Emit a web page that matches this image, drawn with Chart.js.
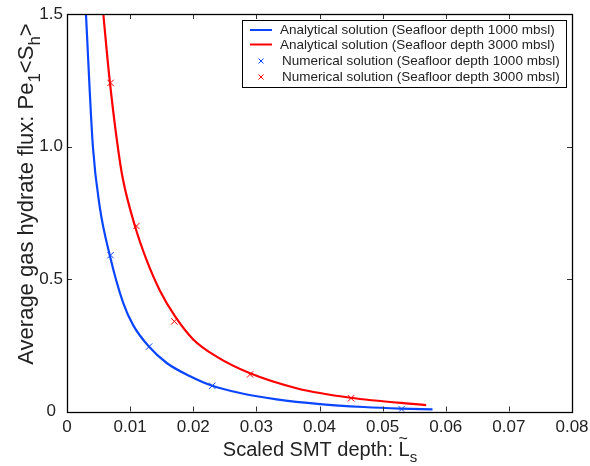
<!DOCTYPE html>
<html>
<head>
<meta charset="utf-8">
<script src="https://cdn.jsdelivr.net/npm/chart.js@4"></script>
<style>
    html, body { margin: 0; padding: 0; background: #fff; }
    #wrap { width: 590px; height: 466px; }
</style>
</head>
<body>
<div id="wrap"><canvas id="chart" width="590" height="466"></canvas></div>
<script>
// Colors + font
const BLUE = '#0a46ff';
const RED = '#ff0000';
const INK = '#222222';
const FONT = '"Liberation Sans", Arial, sans-serif';

// Axis ticks
const xTicks = [0, 0.01, 0.02, 0.03, 0.04, 0.05, 0.06, 0.07, 0.08];
const xTickLabels = ['0', '0.01', '0.02', '0.03', '0.04', '0.05', '0.06', '0.07', '0.08'];
const yTicks = [0, 0.5, 1.0, 1.5];
const yTickLabels = ['0', '0.5', '1.0', '1.5'];

// Analytical curves
const blueCurveX = [0.0030, 0.0041, 0.0052, 0.0068, 0.0089, 0.0105, 0.0129, 0.0158, 0.0195, 0.0229,
    0.0274, 0.0332, 0.0401, 0.0470, 0.0528, 0.0579];
const blueCurveY = [1.500, 1.000, 0.770, 0.587, 0.410, 0.325, 0.247, 0.183, 0.133, 0.098,
    0.070, 0.046, 0.028, 0.017, 0.011, 0.008];
const redCurveX = [0.00575, 0.0067, 0.00797, 0.00883, 0.0108, 0.0126, 0.0147, 0.0171, 0.0200, 0.0237,
    0.0290, 0.0365, 0.0449, 0.0569];
const redCurveY = [1.500, 1.264, 1.012, 0.880, 0.697, 0.572, 0.457, 0.360, 0.272, 0.207,
    0.144, 0.087, 0.052, 0.024];

// Numerical solutions (markers)
const blueMarkX = [0.0069, 0.013, 0.023, 0.053];
const blueMarkY = [0.59, 0.245, 0.097, 0.009];
const redMarkX = [0.0069, 0.011, 0.017, 0.029, 0.045];
const redMarkY = [1.24, 0.70, 0.34, 0.14, 0.05];

const legendLabels = [
    'Analytical solution (Seafloor depth 1000 mbsl)',
    'Analytical solution (Seafloor depth 3000 mbsl)',
    'Numerical solution (Seafloor depth 1000 mbsl)',
    'Numerical solution (Seafloor depth 3000 mbsl)'
];

const pts = (xs, ys) => xs.map((x, i) => ({ x: x, y: ys[i] }));

function drawRich(ctx, parts, size) {
    // text pieces left to right, centred on the origin, baseline at 0
    const subSize = Math.round(size * 0.75);
    let w = 0;
    parts.forEach((p) => {
        ctx.font = (p.sub ? subSize : size) + 'px ' + FONT;
        p.w = ctx.measureText(p.t).width;
        w += p.w;
    });
    let cx = -w / 2;
    parts.forEach((p) => {
        ctx.font = (p.sub ? subSize : size) + 'px ' + FONT;
        ctx.fillText(p.t, cx, p.sub ? size * 0.32 : 0);
        if (p.tilde) {
            ctx.font = Math.round(size * 0.8) + 'px ' + FONT;
            ctx.textAlign = 'center';
            ctx.fillText('~', cx + p.w / 2 - 1, -size * 0.6);
            ctx.textAlign = 'left';
        }
        cx += p.w;
    });
}

const decorations = {
    id: 'decorations',
    afterDatasetsDraw(chart) {
        const { ctx, chartArea: a, scales } = chart;
        const xs = scales.x;
        const ys = scales.y;
        ctx.save();

        // inside tick marks
        ctx.strokeStyle = '#333';
        ctx.lineWidth = 1;
        ctx.beginPath();
        xs.ticks.forEach((t) => {
            const px = Math.round(xs.getPixelForValue(t.value)) + 0.5;
            ctx.moveTo(px, a.bottom); ctx.lineTo(px, a.bottom - 5);
            ctx.moveTo(px, a.top); ctx.lineTo(px, a.top + 5);
        });
        ys.ticks.forEach((t) => {
            const py = Math.round(ys.getPixelForValue(t.value)) + 0.5;
            ctx.moveTo(a.left, py); ctx.lineTo(a.left + 5, py);
            ctx.moveTo(a.right, py); ctx.lineTo(a.right - 5, py);
        });
        ctx.stroke();

        // axes box
        ctx.strokeStyle = '#000';
        ctx.lineWidth = 1.3;
        ctx.strokeRect(Math.round(a.left) + 0.5, Math.round(a.top) + 0.5,
            Math.round(a.right - a.left), Math.round(a.bottom - a.top));

        // legend
        const lx = 242, ly = 20, lw = 324, lh = 67;
        ctx.fillStyle = '#fff';
        ctx.fillRect(lx, ly, lw, lh);
        ctx.strokeStyle = '#000';
        ctx.lineWidth = 1;
        ctx.strokeRect(lx + 0.5, ly + 0.5, lw, lh);
        const rowY = [30, 44.5, 61, 77];
        chart.data.datasets.forEach((ds, i) => {
            const yy = rowY[i];
            ctx.strokeStyle = ds.borderColor;
            if (ds.showLine) {
                ctx.lineWidth = 2;
                ctx.beginPath();
                ctx.moveTo(250, yy); ctx.lineTo(272, yy);
                ctx.stroke();
            } else {
                ctx.lineWidth = 1;
                ctx.beginPath();
                ctx.moveTo(258.5, yy - 2.5); ctx.lineTo(263.5, yy + 2.5);
                ctx.moveTo(263.5, yy - 2.5); ctx.lineTo(258.5, yy + 2.5);
                ctx.stroke();
            }
            ctx.fillStyle = INK;
            ctx.font = '13.5px ' + FONT;
            ctx.textBaseline = 'middle';
            ctx.textAlign = 'left';
            ctx.fillText(ds.label, ds.showLine ? 280 : 282, yy + 0.5);
        });

        // axis titles
        ctx.fillStyle = INK;
        ctx.textBaseline = 'alphabetic';
        ctx.textAlign = 'left';
        ctx.save();
        ctx.translate(33, 194);
        ctx.rotate(-Math.PI / 2);
        drawRich(ctx, [
            { t: 'Average gas hydrate flux: Pe' },
            { t: '1', sub: true },
            { t: '<S' },
            { t: 'h', sub: true },
            { t: '>' }
        ], 22);
        ctx.restore();

        ctx.save();
        ctx.translate(320, 456);
        drawRich(ctx, [
            { t: 'Scaled SMT depth: ' },
            { t: 'L', tilde: true },
            { t: 's', sub: true }
        ], 20);
        ctx.restore();

        ctx.restore();
    }
};

const ctx = document.getElementById('chart').getContext('2d');
new Chart(ctx, {
    type: 'scatter',
    data: {
        datasets: [
            {
                label: legendLabels[0],
                data: pts(blueCurveX, blueCurveY),
                showLine: true,
                borderColor: BLUE,
                borderWidth: 2.2,
                pointRadius: 0,
                cubicInterpolationMode: 'monotone',
                order: 2
            },
            {
                label: legendLabels[1],
                data: pts(redCurveX, redCurveY),
                showLine: true,
                borderColor: RED,
                borderWidth: 2.2,
                pointRadius: 0,
                cubicInterpolationMode: 'monotone',
                order: 2
            },
            {
                label: legendLabels[2],
                data: pts(blueMarkX, blueMarkY),
                showLine: false,
                borderColor: BLUE,
                backgroundColor: BLUE,
                pointStyle: 'crossRot',
                pointRadius: 4.5,
                pointBorderWidth: 1,
                order: 1
            },
            {
                label: legendLabels[3],
                data: pts(redMarkX, redMarkY),
                showLine: false,
                borderColor: RED,
                backgroundColor: RED,
                pointStyle: 'crossRot',
                pointRadius: 4.5,
                pointBorderWidth: 1,
                order: 1
            }
        ]
    },
    options: {
        responsive: false,
        animation: false,
        layout: { padding: { left: 0, top: 14, right: 18, bottom: 0 } },
        plugins: {
            legend: { display: false },
            tooltip: { enabled: false }
        },
        scales: {
            x: {
                type: 'linear',
                min: 0,
                max: 0.08,
                afterBuildTicks: (s) => { s.ticks = xTicks.map((v) => ({ value: v })); },
                afterFit: (s) => { s.height = 54.5; s.paddingLeft = 0; s.paddingRight = 0; },
                grid: { display: false, drawTicks: false },
                border: { display: false },
                ticks: {
                    padding: 6,
                    color: INK,
                    font: { family: FONT, size: 17 },
                    maxRotation: 0,
                    autoSkip: false,
                    callback: (v, i) => xTickLabels[i]
                }
            },
            y: {
                type: 'linear',
                min: 0,
                max: 1.5,
                afterBuildTicks: (s) => { s.ticks = yTicks.map((v) => ({ value: v })); },
                afterFit: (s) => { s.width = 67; s.paddingTop = 0; s.paddingBottom = 0; },
                grid: { display: false, drawTicks: false },
                border: { display: false },
                ticks: {
                    padding: 4,
                    crossAlign: 'center',
                    color: INK,
                    font: { family: FONT, size: 17 },
                    callback: (v, i) => yTickLabels[i]
                }
            }
        }
    },
    plugins: [decorations]
});
</script>
</body>
</html>
